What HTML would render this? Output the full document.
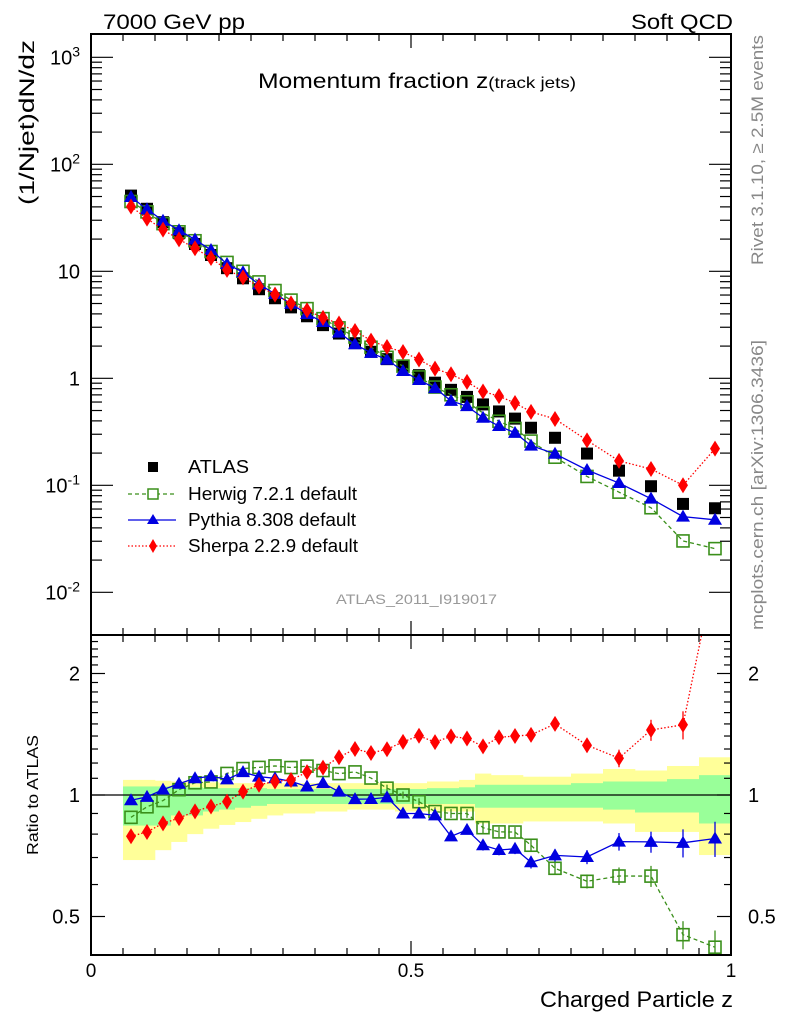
<!DOCTYPE html>
<html><head><meta charset="utf-8"><style>
body{margin:0;background:#fff}
svg{display:block;font-family:"Liberation Sans",sans-serif}
</style></head><body>
<svg id="c" width="786" height="1024" viewBox="0 0 786 1024">
<text x="103" y="29" font-size="21" textLength="142" lengthAdjust="spacingAndGlyphs">7000 GeV pp</text>
<text x="631" y="29" font-size="21" textLength="102" lengthAdjust="spacingAndGlyphs">Soft QCD</text>
<text x="258" y="88" font-size="21" textLength="318" lengthAdjust="spacingAndGlyphs">Momentum fraction z<tspan font-size="16">(track jets)</tspan></text>
<text transform="translate(34,205) rotate(-90)" font-size="21" textLength="165" lengthAdjust="spacingAndGlyphs">(1/Njet)dN/dz</text>
<text transform="translate(38,855) rotate(-90)" font-size="16" textLength="120" lengthAdjust="spacingAndGlyphs">Ratio to ATLAS</text>
<text x="540" y="1007" font-size="22" textLength="193" lengthAdjust="spacingAndGlyphs">Charged Particle z</text>
<text transform="translate(763,265) rotate(-90)" font-size="17" fill="#888" textLength="230" lengthAdjust="spacingAndGlyphs">Rivet 3.1.10, ≥ 2.5M events</text>
<text transform="translate(763,630) rotate(-90)" font-size="17" fill="#888" textLength="290" lengthAdjust="spacingAndGlyphs">mcplots.cern.ch [arXiv:1306.3436]</text>
<text x="336" y="604" font-size="14" fill="#999" textLength="161" lengthAdjust="spacingAndGlyphs">ATLAS_2011_I919017</text>
<g id="bands"></g><g id="marks"></g><g id="axes"></g>
<g font-size="18">
 <rect x="148" y="462" width="10" height="10" fill="#000"/>
 <text x="188" y="473" textLength="61" lengthAdjust="spacingAndGlyphs">ATLAS</text>
 <line x1="128" y1="494" x2="176" y2="494" stroke="#3a8f1a" stroke-dasharray="4,3" stroke-width="1.2"/>
 <rect x="148" y="489" width="10" height="10" fill="#fff" stroke="#3a8f1a" stroke-width="1.5"/>
 <text x="188" y="500" textLength="169" lengthAdjust="spacingAndGlyphs">Herwig 7.2.1 default</text>
 <line x1="128" y1="520" x2="176" y2="520" stroke="#0000e0" stroke-width="1.3"/>
 <path d="M153,514 L159,524 L147,524 Z" fill="#0000e0"/>
 <text x="188" y="526" textLength="168" lengthAdjust="spacingAndGlyphs">Pythia 8.308 default</text>
 <line x1="128" y1="546" x2="176" y2="546" stroke="#f00" stroke-dasharray="1.5,2" stroke-width="1.3"/>
 <path d="M153,539 L157,546 L153,553 L149,546 Z" fill="#f00"/>
 <text x="188" y="552" textLength="170" lengthAdjust="spacingAndGlyphs">Sherpa 2.2.9 default</text>
</g>
</svg>
<script>
const binEdges=[0.05,0.075,0.1,0.125,0.15,0.175,0.2,0.225,0.25,0.275,0.3,0.325,0.35,0.375,0.4,0.425,0.45,0.475,0.5,0.525,0.55,0.575,0.6,0.625,0.65,0.675,0.7,0.75,0.8,0.85,0.9,0.95,1.0];
const atlas=[51,38.4,28.8,22.7,18.0,14.2,10.7,8.6,6.8,5.6,4.6,3.8,3.14,2.62,2.13,1.77,1.51,1.30,1.07,0.91,0.78,0.67,0.57,0.49,0.42,0.345,0.278,0.198,0.137,0.098,0.067,0.061];
const herwig=[44.9,35.9,27.9,23.4,19.3,15.3,12.1,10.0,7.96,6.61,5.38,4.48,3.61,2.96,2.43,1.95,1.57,1.30,1.03,0.828,0.702,0.603,0.473,0.397,0.340,0.259,0.183,0.121,0.0863,0.0617,0.0302,0.0256];
const pythia=[49.5,38.0,29.7,24.2,19.8,15.8,11.7,9.80,7.55,6.16,4.97,3.99,3.36,2.67,2.08,1.73,1.49,1.17,0.963,0.810,0.616,0.549,0.428,0.358,0.309,0.235,0.197,0.139,0.105,0.075,0.051,0.0476];
const sherpa=[40.3,31.1,24.5,19.9,16.4,13.3,10.3,8.77,7.21,6.05,5.01,4.33,3.67,3.25,2.77,2.25,1.96,1.76,1.50,1.23,1.09,0.925,0.752,0.681,0.588,0.486,0.417,0.263,0.169,0.142,0.100,0.22];
const mcRelErr=[0.01,0.01,0.01,0.01,0.01,0.01,0.01,0.01,0.01,0.01,0.01,0.012,0.012,0.015,0.015,0.015,0.02,0.02,0.02,0.025,0.025,0.025,0.03,0.03,0.03,0.035,0.035,0.04,0.05,0.06,0.08,0.1];
const yellowUp=[1.09,1.09,1.085,1.08,1.075,1.075,1.07,1.07,1.07,1.07,1.07,1.07,1.07,1.07,1.07,1.07,1.07,1.07,1.07,1.08,1.08,1.09,1.13,1.12,1.12,1.11,1.11,1.13,1.16,1.15,1.18,1.24];
const yellowDn=[0.69,0.69,0.73,0.765,0.80,0.825,0.843,0.857,0.873,0.89,0.90,0.90,0.91,0.91,0.92,0.92,0.92,0.91,0.91,0.91,0.91,0.91,0.85,0.85,0.85,0.86,0.86,0.86,0.85,0.81,0.81,0.71];
const greenUp=[1.05,1.05,1.05,1.045,1.045,1.04,1.04,1.04,1.04,1.035,1.035,1.035,1.035,1.035,1.035,1.035,1.035,1.035,1.035,1.04,1.04,1.045,1.06,1.06,1.06,1.06,1.06,1.07,1.08,1.08,1.095,1.12];
const greenDn=[0.84,0.84,0.84,0.89,0.89,0.91,0.92,0.93,0.94,0.95,0.95,0.95,0.95,0.95,0.95,0.95,0.95,0.95,0.95,0.95,0.95,0.95,0.93,0.93,0.93,0.93,0.93,0.93,0.92,0.905,0.905,0.85];
const xTicks=[0,0.5,1];
const xTickLabels=["0","0.5","1"];
const yDecades=[-2,-1,0,1,2,3];
const ratioTicks=[0.5,1,2];
const ratioTickLabels=["0.5","1","2"];

const NS="http://www.w3.org/2000/svg";
const L=91,R=731,T=34,M=635,B=955;
const X=z=>L+(R-L)*z;
const Y=v=>378.3-107*Math.log10(v);
const RY=r=>795-121.5*Math.log2(r);
function mk(tag,at,parent){const e=document.createElementNS(NS,tag);for(const k in at)e.setAttribute(k,at[k]);parent.appendChild(e);return e;}
const bands=document.getElementById('bands'),marks=document.getElementById('marks'),axes=document.getElementById('axes');
const clipR=mk('clipPath',{id:'cr'},document.getElementById('c'));mk('rect',{x:L,y:M,width:R-L,height:B-M},clipR);
const clipM=mk('clipPath',{id:'cm'},document.getElementById('c'));mk('rect',{x:L,y:T,width:R-L,height:M-T},clipM);
const centers=atlas.map((_,i)=>(binEdges[i]+binEdges[i+1])/2);
for(let i=0;i<atlas.length;i++){
 const x0=X(binEdges[i]),x1=X(binEdges[i+1]);
 const y=mk('rect',{x:x0,y:RY(yellowUp[i]),width:x1-x0+0.3,height:RY(yellowDn[i])-RY(yellowUp[i]),fill:'#ffff99'},bands);
 
 
 const g=mk('rect',{x:x0,y:RY(greenUp[i]),width:x1-x0+0.3,height:RY(greenDn[i])-RY(greenUp[i]),fill:'#99ff99'},bands);
 
 
}
const one=mk('line',{x1:L,x2:R,y1:RY(1),y2:RY(1),stroke:'#000','stroke-width':1.2},bands);


atlas.forEach((v,i)=>{const r=mk('rect',{x:X(centers[i])-6,y:Y(v)-6,width:12,height:12,fill:'#000'},marks);
 
 });
const series=[
 {d:herwig,c:'#3a8f1a',dash:'4,3',m:'sq',n:'herwig'},
 {d:pythia,c:'#0000e0',dash:'',m:'tri',n:'pythia'},
 {d:sherpa,c:'#f00',dash:'1.5,2',m:'dia',n:'sherpa'}];
function marker(m,x,y,c,g){
 if(m==='sq')return mk('rect',{x:x-6,y:y-6,width:12,height:12,fill:'none',stroke:c,'stroke-width':1.6},g);
 if(m==='tri')return mk('path',{d:`M${x},${y-7} L${x+7},${y+5} L${x-7},${y+5} Z`,fill:c},g);
 return mk('path',{d:`M${x},${y-8} L${x+5},${y} L${x},${y+8} L${x-5},${y} Z`,fill:c},g);
}
series.forEach(s=>{
 const gm=mk('g',{'clip-path':'url(#cm)'},marks);
 const gr=mk('g',{'clip-path':'url(#cr)'},marks);
 const pm=s.d.map((v,i)=>`${X(centers[i])},${Y(v)}`).join(' ');
 const pl=mk('polyline',{points:pm,fill:'none',stroke:s.c,'stroke-width':1.3,'stroke-dasharray':s.dash},gm);
 
 
 const pr=s.d.map((v,i)=>`${X(centers[i])},${RY(v/atlas[i])}`).join(' ');
 const rl=mk('polyline',{points:pr,fill:'none',stroke:s.c,'stroke-width':1.3,'stroke-dasharray':s.dash},gr);
 
 
 s.d.forEach((v,i)=>{
  const x=X(centers[i]);
  const a=marker(s.m,x,Y(v),s.c,gm);
  
  
  const r=v/atlas[i];
  if(mcRelErr[i]>0.015){const e=mk('line',{x1:x,x2:x,y1:RY(r*(1+mcRelErr[i])),y2:RY(r*(1-mcRelErr[i])),stroke:s.c,'stroke-width':1.3},gr);
   
   }
  const b=marker(s.m,x,RY(r),s.c,gr);
  
  
 });
});
[[T,M],[M,B]].forEach(([t,b],k)=>{const f=mk('rect',{x:L,y:t,width:R-L,height:b-t,fill:'none',stroke:'#000','stroke-width':2},axes);
 
 });
for(let k=0;k<=20;k++){const z=k*0.05,x=X(z),big=k%10===0,len=big?14:7;
 [T,M,B].forEach(yy=>{
  if(yy!==T) mk('line',{x1:x,x2:x,y1:yy,y2:yy-len,stroke:'#000','stroke-width':1.2},axes);
  if(yy!==B) mk('line',{x1:x,x2:x,y1:yy,y2:yy+len,stroke:'#000','stroke-width':1.2},axes);
 });}
xTicks.forEach((z,i)=>{const t=mk('text',{x:X(z),y:977,'font-size':19,'text-anchor':'middle'},axes);t.textContent=xTickLabels[i];
 
 });
yDecades.forEach(d=>{
 for(let m=1;m<=9;m++){const v=m*Math.pow(10,d),y=Y(v);if(y<T||y>M)continue;const len=m===1?22:11;
  mk('line',{x1:L,x2:L+len,y1:y,y2:y,stroke:'#000','stroke-width':1.2},axes);
  mk('line',{x1:R,x2:R-len,y1:y,y2:y,stroke:'#000','stroke-width':1.2},axes);}
 const t=mk('text',{x:80,y:Y(Math.pow(10,d))+7,'font-size':20,'text-anchor':'end'},axes);
 if(d===0)t.textContent='1';else if(d===1)t.textContent='10';
 else{t.textContent='10';const s=mk('tspan',{dy:-8,'font-size':14},t);s.textContent=String(d);}
 
 
});
for(let k=5;k<=24;k++){const r=k/10,y=RY(r);if(y<M||y>B)continue;const len=(k===5||k===10||k===20)?14:7;
 mk('line',{x1:L,x2:L+len,y1:y,y2:y,stroke:'#000','stroke-width':1.2},axes);
 mk('line',{x1:R,x2:R-len,y1:y,y2:y,stroke:'#000','stroke-width':1.2},axes);}
ratioTicks.forEach((r,i)=>{
 const a=mk('text',{x:80,y:RY(r)+7,'font-size':20,'text-anchor':'end'},axes);a.textContent=ratioTickLabels[i];
 
 
 const b=mk('text',{x:748,y:RY(r)+7,'font-size':20},axes);b.textContent=ratioTickLabels[i];
 
 
});
</script>
</body></html>
